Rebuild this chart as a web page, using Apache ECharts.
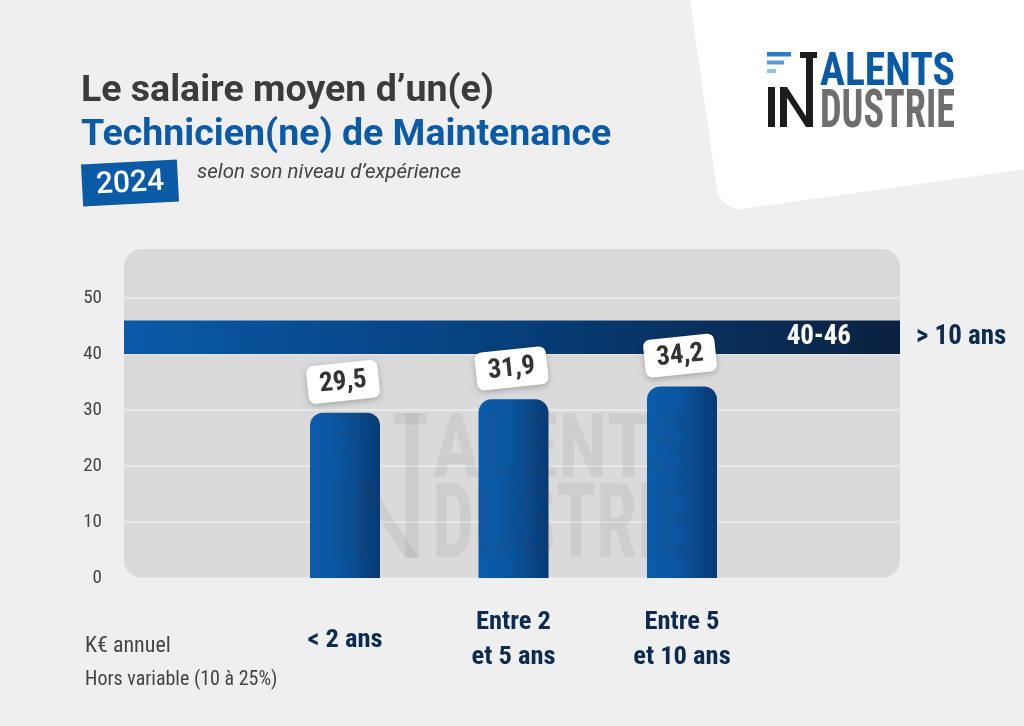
<!DOCTYPE html>
<html>
<head>
<meta charset="utf-8">
<script src="https://cdn.jsdelivr.net/npm/echarts@6/dist/echarts.min.js"></script>
<style>html,body{margin:0;padding:0;background:#efefef;}#c{width:1024px;height:726px;}</style>
</head>
<body>
<div id="c"></div>
<script>
// ---- data ----
const categories = ['< 2 ans', 'Entre 2\net 5 ans', 'Entre 5\net 10 ans'];
const salaries = [29.5, 31.9, 34.2];
const seniorRange = [40, 46];
const seniorCategory = '> 10 ans';
const yMin = 0, yMax = 50, yStep = 10;
const titleLine1 = 'Le salaire moyen d’un(e)';
const titleLine2 = 'Technicien(ne) de Maintenance';
const yearText = '2024';
const subtitleText = 'selon son niveau d’expérience';
const unitText = 'K€ annuel';
const noteText = 'Hors variable (10 à 25%)';

const fmt = v => String(v).replace('.', ',');
const COND = '"Roboto Condensed", Roboto';

const mctx = document.createElement('canvas').getContext('2d');
function tw(txt, font) { mctx.font = font; return mctx.measureText(txt).width; }

function logoParts(o, fillTalents, fillDustrie, fillBlack, bars, z, opacity) {
  const f1 = 'bold 46px ' + COND, f2 = 'bold 54px ' + COND;
  const s1 = 135 / tw('ALENTS', f1), s2 = 135 / tw('DUSTRIE', f2);
  const s = o.s;
  const R = (x, y, w, h, fill) => ({ type: 'rect', z: z, shape: { x: o.x + x * s, y: o.y + y * s, width: w * s, height: h * s }, style: { fill: fill, opacity: opacity }, silent: true });
  return [
    R(0, 0, 24, 4.5, bars[0]), R(0, 8.5, 17, 4, bars[1]), R(0, 17, 9, 4, bars[2]),
    R(33, 0, 17, 6, fillBlack), R(39, 0, 7, 75, fillBlack),
    R(1, 35, 7, 40, fillBlack), R(13, 35, 7, 40, fillBlack),
    { type: 'polygon', z: z, silent: true, shape: { points: [[o.x + 13 * s, o.y + 35 * s], [o.x + 20 * s, o.y + 35 * s], [o.x + 46 * s, o.y + 75 * s], [o.x + 39 * s, o.y + 75 * s]] }, style: { fill: fillBlack, opacity: opacity } },
    { type: 'text', z: z, silent: true, x: o.x + 53 * s, y: o.y + 21.5 * s, scaleX: s1 * s, scaleY: s, style: { text: 'ALENTS', font: f1, fill: fillTalents, textVerticalAlign: 'middle', opacity: opacity } },
    { type: 'text', z: z, silent: true, x: o.x + 53 * s, y: o.y + 61 * s, scaleX: s2 * s, scaleY: s, style: { text: 'DUSTRIE', font: f2, fill: fillDustrie, textVerticalAlign: 'middle', opacity: opacity } }
  ];
}

const chart = echarts.init(document.getElementById('c'), null, { renderer: 'canvas' });

const blueGrad = new echarts.graphic.LinearGradient(0, 0, 1, 0, [
  { offset: 0, color: '#0b5cab' }, { offset: 0.45, color: '#0a55a0' }, { offset: 1, color: '#093a74' }
]);
const bandGrad = new echarts.graphic.LinearGradient(0, 0, 1, 0, [
  { offset: 0, color: '#0a5aa8' }, { offset: 0.5, color: '#063f7a' }, { offset: 1, color: '#0b2140' }
]);

const graphics = [
  { type: 'rect', z: -20, silent: true, x: 720, y: 212, rotation: 8 * Math.PI / 180,
    shape: { x: 0, y: -700, width: 700, height: 700, r: 24 }, style: { fill: '#ffffff' } },
  { type: 'rect', z: -10, silent: true, shape: { x: 124, y: 249, width: 776, height: 329, r: 18 }, style: { fill: '#dadada' } },
  { type: 'group', x: 130, y: 183, rotation: 3 * Math.PI / 180, children: [
    { type: 'rect', shape: { x: -48, y: -21, width: 96, height: 42 }, style: { fill: '#0b5aa6' } },
    { type: 'text', style: { text: yearText, font: '500 30px Roboto', fill: '#ffffff', textAlign: 'center', textVerticalAlign: 'middle' }, x: 0, y: 1 }
  ] }
];
logoParts({ x: 767, y: 52, s: 1 }, '#0b5aa6', '#6e6e6e', '#1c1c1c', ['#2d7cc6', '#5a9ad6', '#93c0e8'], 5, 1).forEach(p => graphics.push(p));
logoParts({ x: 330, y: 413, s: 1.93 }, '#3a3a3a', '#3a3a3a', '#3a3a3a', ['#3a3a3a', '#3a3a3a', '#3a3a3a'], 100, 0.08).forEach(p => graphics.push(p));

const option = {
  backgroundColor: '#efefef',
  animation: false,
  textStyle: { fontFamily: 'Roboto' },
  title: [
    { text: titleLine1, left: 76, top: 68, textStyle: { fontSize: 37.5, fontWeight: 'bold', color: '#3b3b3b', fontFamily: 'Roboto' } },
    { text: titleLine2, left: 76, top: 112, textStyle: { fontSize: 37.5, fontWeight: 'bold', color: '#0b5aa6', fontFamily: 'Roboto' } },
    { text: subtitleText, left: 192, top: 158, textStyle: { fontSize: 20.5, fontWeight: 'normal', fontStyle: 'italic', color: '#444', fontFamily: 'Roboto' } },
    { text: unitText, left: 80, top: 630, textStyle: { fontSize: 22, fontWeight: 'normal', color: '#444', fontFamily: COND } },
    { text: noteText, left: 80, top: 665, textStyle: { fontSize: 20, fontWeight: 'normal', color: '#444', fontFamily: COND } }
  ],
  graphic: graphics,
  grid: [
    { left: 124, right: 124, top: 298, bottom: 148 },
    { left: 260.75, width: 505.5, top: 298, bottom: 148 }
  ],
  xAxis: [
    { gridIndex: 0, type: 'value', min: 0, max: 1, show: false },
    { gridIndex: 1, type: 'category', data: categories,
      axisLine: { show: false }, axisTick: { show: false },
      axisLabel: { margin: 62, verticalAlign: 'middle', fontSize: 26.5, fontWeight: 'bold', color: '#0d2b4f', lineHeight: 35, fontFamily: COND } }
  ],
  yAxis: [
    { gridIndex: 0, type: 'value', min: yMin, max: yMax, interval: yStep,
      axisLine: { show: false }, axisTick: { show: false },
      axisLabel: { margin: 22, fontSize: 19, color: '#444', fontFamily: COND },
      splitLine: { lineStyle: { color: '#ececec', width: 1.5 } } },
    { gridIndex: 1, type: 'value', min: yMin, max: yMax, interval: yStep, show: false, splitLine: { show: false } }
  ],
  series: [
    { type: 'line', xAxisIndex: 0, yAxisIndex: 0, data: [], silent: true,
      markArea: { silent: true, data: [
        [ { yAxis: seniorRange[1], itemStyle: { color: bandGrad },
            label: { show: true, position: 'insideRight', offset: [-44, 0], formatter: seniorRange.join('-'), color: '#fff', fontSize: 27, fontWeight: 'bold', fontFamily: COND } },
          { yAxis: seniorRange[0] } ],
        [ { yAxis: seniorRange[1], itemStyle: { color: 'rgba(0,0,0,0)' },
            label: { show: true, position: 'right', distance: 16, formatter: seniorCategory, color: '#0d2b4f', fontSize: 27, fontWeight: 'bold', fontFamily: COND } },
          { yAxis: seniorRange[0] } ]
      ] } },
    { type: 'bar', xAxisIndex: 1, yAxisIndex: 1, data: salaries, barWidth: 70, z: 3,
      itemStyle: { color: blueGrad, borderRadius: [13, 13, 0, 0] },
      label: { show: true, position: 'top', distance: 12, rotate: 6, formatter: p => fmt(p.value),
        backgroundColor: '#ffffff', borderRadius: 7, padding: [6, 12, 5, 12],
        fontSize: 27, fontWeight: 'bold', color: '#333', fontFamily: COND,
        shadowColor: 'rgba(0,0,0,0.25)', shadowBlur: 6, shadowOffsetY: 2 } }
  ]
};
chart.setOption(option);
</script>
</body>
</html>
